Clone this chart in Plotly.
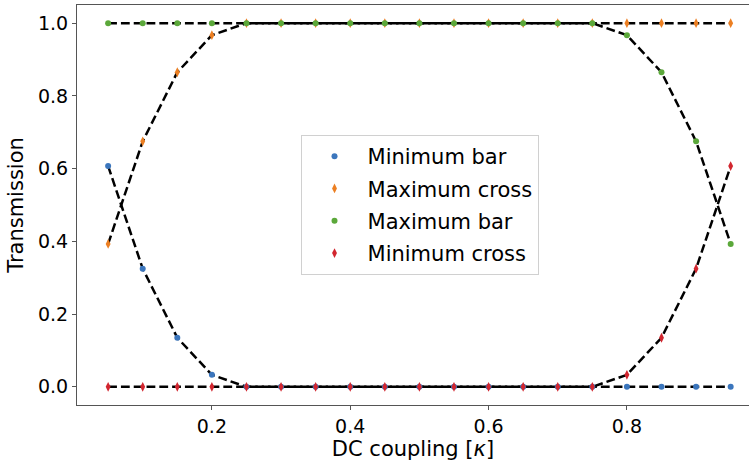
import plotly.graph_objects as go

# Coupling values of the directional coupler
kappa = [0.05, 0.10, 0.15, 0.20, 0.25, 0.30, 0.35, 0.40, 0.45, 0.50,
         0.55, 0.60, 0.65, 0.70, 0.75, 0.80, 0.85, 0.90, 0.95]

# Transmission extremes per port
min_bar = [0.607, 0.325, 0.135, 0.033, 0, 0, 0, 0, 0, 0,
           0, 0, 0, 0, 0, 0, 0, 0, 0]
max_cross = [0.393, 0.675, 0.865, 0.967, 1, 1, 1, 1, 1, 1,
             1, 1, 1, 1, 1, 1, 1, 1, 1]
max_bar = [1, 1, 1, 1, 1, 1, 1, 1, 1, 1,
           1, 1, 1, 1, 1, 0.967, 0.865, 0.675, 0.393]
min_cross = [0, 0, 0, 0, 0, 0, 0, 0, 0, 0,
             0, 0, 0, 0, 0, 0.033, 0.135, 0.325, 0.607]

series = [
    ("Minimum bar", min_bar, "#3b76bd", "circle", 6),
    ("Maximum cross", max_cross, "#ec7f22", "diamond-tall", 7),
    ("Maximum bar", max_bar, "#5ba83a", "circle", 6),
    ("Minimum cross", min_cross, "#d2262f", "diamond-tall", 7),
]

x_ticks = [0.2, 0.4, 0.6, 0.8]
y_ticks = [0.0, 0.2, 0.4, 0.6, 0.8, 1.0]

FONT = "DejaVu Sans"

fig = go.Figure()

# dashed guide line through every series
for name, vals, color, sym, size in series:
    fig.add_trace(go.Scatter(
        x=kappa, y=vals, mode="lines", showlegend=False, hoverinfo="skip",
        line=dict(color="black", width=2.5, dash="8.8px,4px"),
    ))

# the measured points on top
for name, vals, color, sym, size in series:
    fig.add_trace(go.Scatter(
        x=kappa, y=vals, mode="markers", name=name, legendgroup=name,
        marker=dict(color=color, symbol=sym, size=size, line=dict(width=0)),
    ))

fig.update_layout(
    width=749, height=461,
    margin=dict(l=77, r=0, t=5, b=56),
    paper_bgcolor="white", plot_bgcolor="white",
    font=dict(family=FONT, color="black", size=19),
    legend=dict(
        x=0.5097, y=0.5, xanchor="center", yanchor="middle",
        bgcolor="white", bordercolor="#d0d0d0", borderwidth=1,
        font=dict(family=FONT, size=21, color="black"),
        tracegroupgap=2, itemwidth=56,
    ),
    xaxis=dict(
        range=[0.005, 0.9765], tickvals=x_ticks, tickformat=".1f",
        showgrid=False, zeroline=False,
        showline=True, linecolor="#555555", linewidth=1, mirror=True,
        ticks="outside", ticklen=4, tickcolor="#555555",
        tickfont=dict(size=19),
        title=dict(text="DC coupling [<i>κ</i>]", font=dict(size=21), standoff=3),
    ),
    yaxis=dict(
        range=[-0.05, 1.05], tickvals=y_ticks, tickformat=".1f",
        showgrid=False, zeroline=False,
        showline=True, linecolor="#555555", linewidth=1, mirror=False,
        ticks="outside", ticklen=4, tickcolor="#555555",
        tickfont=dict(size=19),
        title=dict(text="Transmission", font=dict(size=21), standoff=8),
    ),
)

fig.write_html("out.html")
